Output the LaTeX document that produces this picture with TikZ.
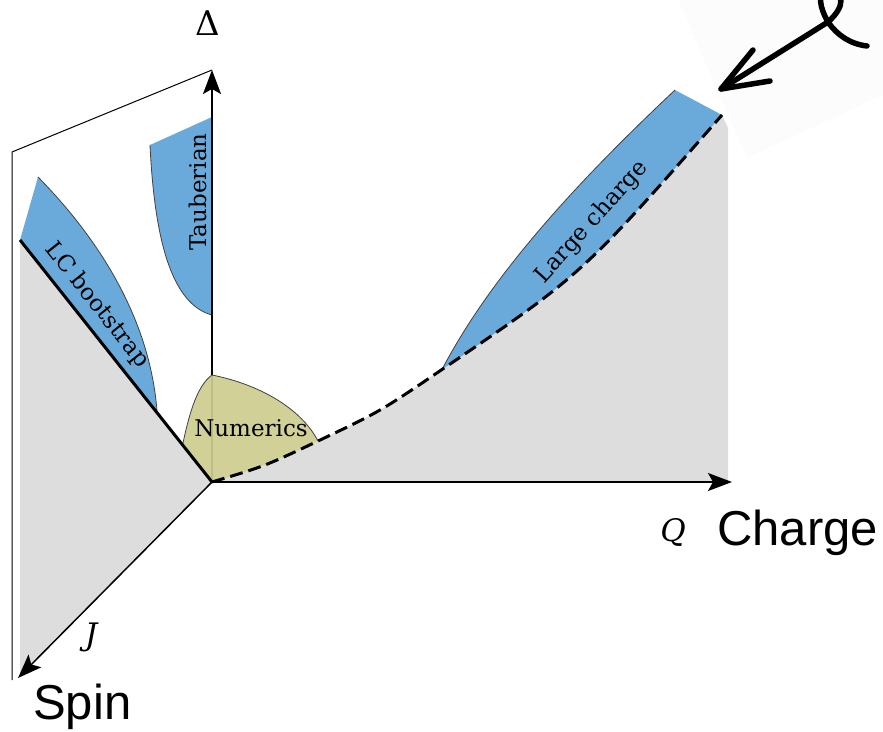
\documentclass[tikz,border=0pt]{standalone}
\usepackage{fontspec}
\newfontfamily\arialfont{Liberation Sans}
\newfontfamily\serfont{DejaVu Serif}
\usetikzlibrary{arrows.meta}
\definecolor{lcblue}{RGB}{106,170,218}
\definecolor{numolive}{RGB}{205,205,143}
\definecolor{regiongrey}{RGB}{221,221,221}
\definecolor{stickerbg}{RGB}{252,252,252}
\begin{document}
\begin{tikzpicture}[x=1pt,y=-1pt,
  axis/.style={line width=1.5pt,-{Stealth[length=24pt,width=18pt,inset=5pt]}},
  plane/.style={line width=1pt},
  edge/.style={line width=0.8pt, draw=black!75},
  lab/.style={font=\serfont\fontsize{23}{27}\selectfont, inner sep=0pt},
  mlab/.style={font=\serfont\itshape\fontsize{31}{35}\selectfont, inner sep=0pt},
  bigword/.style={font=\arialfont\fontsize{49}{56}\selectfont, inner sep=0pt, anchor=base west},
  hand/.style={line width=5.5pt, line cap=round, line join=round},
  dashcurve/.style={line width=3pt, dash pattern=on 13pt off 6pt},
]
\useasboundingbox (0,0) rectangle (883,731);
\coordinate (O) at (212,482);
\coordinate (Dtip) at (212,70);
\coordinate (Qtip) at (732,482);
\coordinate (Jtip) at (18,678);
\coordinate (PT) at (12,152);
\coordinate (PB) at (12,680);
\coordinate (LCtop) at (20,240);
\coordinate (LCend) at (157,411);
\coordinate (A) at (318,441);
\coordinate (B) at (442,369.5);
\coordinate (C) at (722,115);
\coordinate (LGtop) at (675,90);
\coordinate (Nt) at (212,375);
\coordinate (Nl) at (183,443);

% faint sticker background
\fill[stickerbg] (678,0) -- (747,158) -- (883,95) -- (883,0) -- cycle;

% grey regions
\fill[regiongrey] (LCtop) -- (O) -- (20,676) -- cycle;
\fill[regiongrey] (O) .. controls (265,466.1) .. (A)
  .. controls (380,411.6) .. (B)
  .. controls (582,274.5) .. (C) -- (728,128) -- (728,482) -- cycle;

% blue regions
\fill[lcblue] (38,177) -- (LCtop) -- (LCend) .. controls (150,320) and (100,240) .. (38,177) -- cycle;
\draw[edge] (38,177) .. controls (100,240) and (150,320) .. (LCend);
\fill[lcblue] (150,145) -- (212,117) -- (212,315) .. controls (175,305) and (155,250) .. (150,145) -- cycle;
\draw[edge] (150,145) .. controls (155,250) and (175,305) .. (212,315);
\fill[lcblue] (B) .. controls (582,274.5) .. (C) -- (LGtop)
  .. controls (590,170) and (495,268) .. (B) -- cycle;
\draw[edge] (LGtop) .. controls (590,170) and (495,268) .. (B);

% back plane
\draw[plane] (PB) -- (PT) -- (Dtip);

% Delta axis
\draw[axis] (O) -- (Dtip);

% Numerics
\fill[numolive, opacity=0.93] (Nt) .. controls (262,385) and (302,410) .. (A)
  .. controls (265,466.1) .. (O) -- (Nl)
  .. controls (190,410) and (198,385) .. (Nt) -- cycle;
\draw[edge] (Nl) .. controls (190,410) and (198,385) .. (Nt)
  .. controls (262,385) and (302,410) .. (A);

% bold LC line and dashed curve
\draw[line width=3pt] (LCtop) -- (O);
\draw[dashcurve] (O) .. controls (265,466.1) .. (A)
  .. controls (380,411.6) .. (B)
  .. controls (582,274.5) .. (C);

% axes
\draw[axis] (O) -- (Qtip);
\draw[axis] (O) -- (Jtip);

% labels
\node[inner sep=0pt, font=\serfont\fontsize{34}{38}\selectfont] (Dl) at (208,23) {Δ};
\node[mlab] (Ql) at (673,532) {Q};
\node[mlab] (Jl) at (91,637) {J};
\node[bigword] (charge) at (717,545) {Charge};
\node[bigword] (spin) at (33,719) {Spin};
\node[lab, rotate=-51.6] (lc) at (97,305) {LC bootstrap};
\node[lab, rotate=90] (taub) at (198,192) {Tauberian};
\node[lab, rotate=48] (lg) at (592,222) {Large charge};
\node[lab] (num) at (251,428) {Numerics};

% hand-drawn arrow
\begin{scope}
\clip (0,0) rectangle (883,731);
\coordinate (Hx) at (828,22);
\coordinate (Htip) at (721,89);
\draw[hand] (867,46) .. controls (850,44) and (837,35) .. (Hx)
  .. controls (820,8) and (816,-8) .. (829,-8)
  .. controls (844,-8) and (846,6) .. (Hx) -- (Htip);
\draw[hand] (753,50) -- (Htip) -- (770,81);
\end{scope}
\end{tikzpicture}
\end{document}
